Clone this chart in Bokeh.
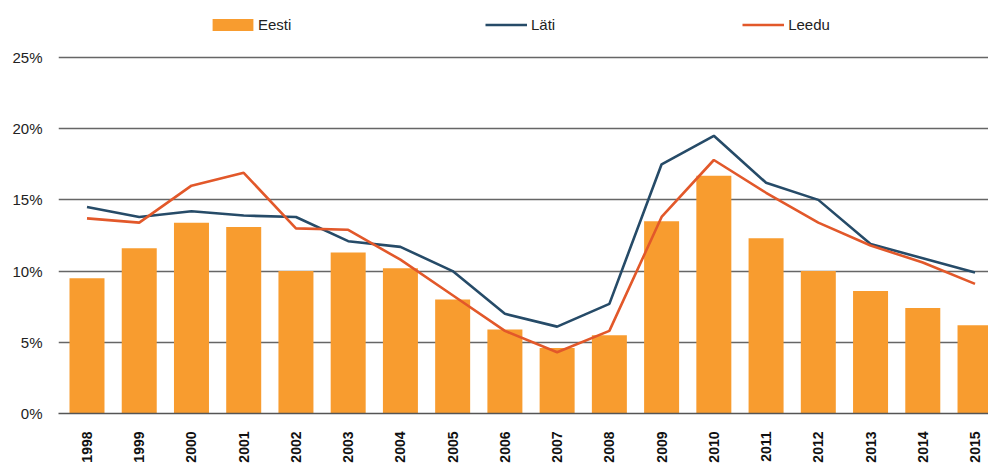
from bokeh.plotting import figure
from bokeh.models import Range1d, FixedTicker, PrintfTickFormatter, Legend, LegendItem
from bokeh.embed import file_html
from bokeh.resources import INLINE
import math

years = ["1998", "1999", "2000", "2001", "2002", "2003", "2004", "2005", "2006",
         "2007", "2008", "2009", "2010", "2011", "2012", "2013", "2014", "2015"]
eesti = [9.5, 11.6, 13.4, 13.1, 10.0, 11.3, 10.2, 8.0, 5.9, 4.6, 5.5, 13.5, 16.7, 12.3, 10.0, 8.6, 7.4, 6.2]
lati = [14.5, 13.8, 14.2, 13.9, 13.8, 12.1, 11.7, 10.0, 7.0, 6.1, 7.7, 17.5, 19.5, 16.2, 15.0, 11.9, 10.9, 9.9]
leedu = [13.7, 13.4, 16.0, 16.9, 13.0, 12.9, 10.8, 8.3, 5.8, 4.3, 5.8, 13.8, 17.8, 15.5, 13.4, 11.8, 10.6, 9.1]
y_ticks = [0, 5, 10, 15, 20, 25]

FONT = "Liberation Sans"
xs = list(range(len(years)))

p = figure(width=988, height=465, output_backend="svg", toolbar_location=None,
           x_range=Range1d(-0.5456, 17.258), y_range=Range1d(0, 29.0),
           min_border_left=58, min_border_top=0, min_border_right=0, min_border_bottom=52)
p.outline_line_color = None
p.background_fill_color = "white"
p.border_fill_color = "white"

bars = p.vbar(x=xs, top=eesti, width=0.67, color="#f89c2f", line_color=None)
l1 = p.line(xs, lati, line_color="#264b68", line_width=2.6)
l2 = p.line(xs, leedu, line_color="#e2582a", line_width=2.6)

# grid
p.xgrid.visible = False
p.ygrid.ticker = FixedTicker(ticks=y_ticks)
p.ygrid.grid_line_color = "#666666"
p.ygrid.grid_line_width = 1.4

# y axis
p.yaxis.ticker = FixedTicker(ticks=y_ticks)
p.yaxis.formatter = PrintfTickFormatter(format="%d%%")
p.yaxis.axis_line_color = None
p.yaxis.major_tick_line_color = None
p.yaxis.minor_tick_line_color = None
p.yaxis.major_tick_out = 0
p.yaxis.major_tick_in = 0
p.yaxis.major_label_standoff = 16
p.yaxis.major_label_text_font = FONT
p.yaxis.major_label_text_font_size = "15px"
p.yaxis.major_label_text_color = "#222222"

# x axis
p.xaxis.ticker = FixedTicker(ticks=xs)
p.xaxis.major_label_overrides = {i: y for i, y in enumerate(years)}
p.xaxis.major_label_orientation = math.pi / 2
p.xaxis.axis_line_color = "#555555"
p.xaxis.axis_line_width = 1.6
p.xaxis.major_tick_line_color = None
p.xaxis.minor_tick_line_color = None
p.xaxis.major_tick_out = 0
p.xaxis.major_tick_in = 0
p.xaxis.major_label_standoff = 18
p.xaxis.major_label_text_font = FONT
p.xaxis.major_label_text_font_size = "14px"
p.xaxis.major_label_text_font_style = "bold"
p.xaxis.major_label_text_color = "#111111"

common = dict(orientation="horizontal", padding=0, margin=0,
              label_text_font=FONT, label_text_font_size="15px",
              label_text_color="#222222", label_height=13,
              border_line_color=None, background_fill_alpha=0)

legend_bar = Legend(items=[LegendItem(label="Eesti", renderers=[bars])],
                    location=(149, 380), label_standoff=0,
                    glyph_width=51, glyph_height=15, **common)
legend_lines = Legend(items=[LegendItem(label="Läti", renderers=[l1]),
                             LegendItem(label="Leedu", renderers=[l2])],
                      location=(427, 380), spacing=187, label_standoff=4,
                      glyph_width=42, glyph_height=13, **common)
p.add_layout(legend_bar, "center")
p.add_layout(legend_lines, "center")

open("out.html", "w").write(file_html(p, INLINE))
